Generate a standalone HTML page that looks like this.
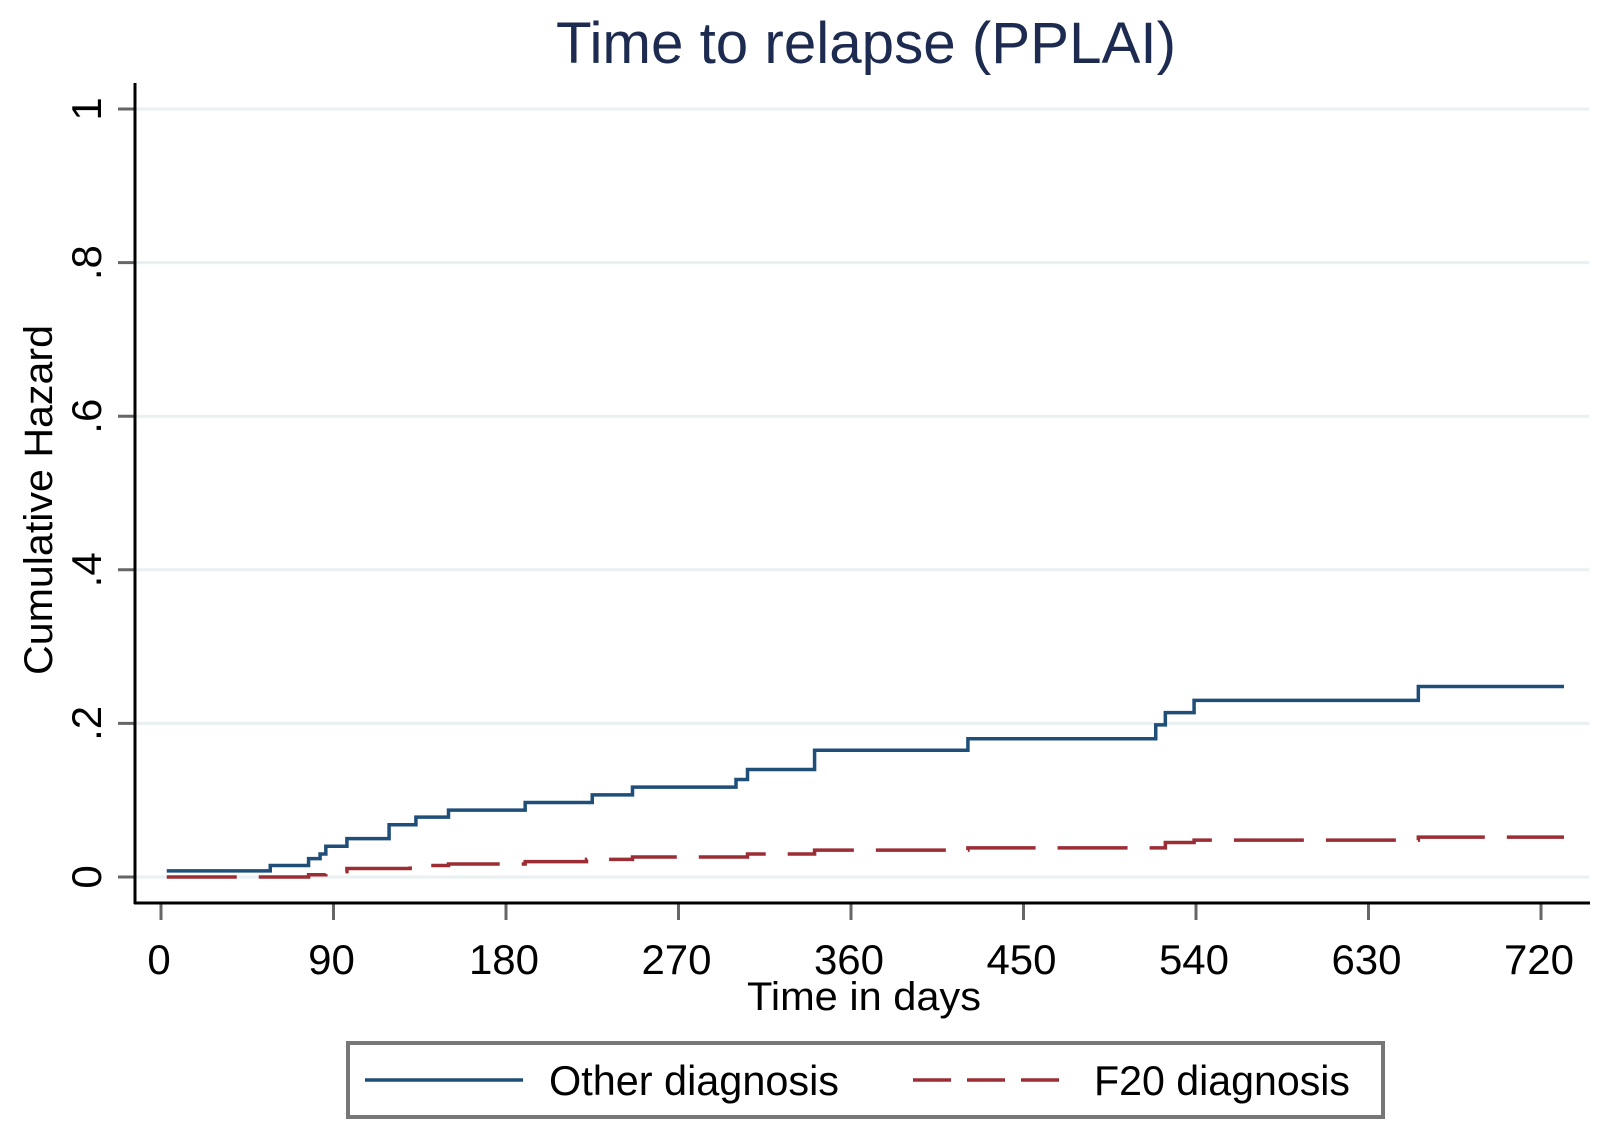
<!DOCTYPE html>
<html><head><meta charset="utf-8">
<style>
html,body{margin:0;padding:0;background:#fff;}
svg{display:block;font-family:"Liberation Sans",Arial,sans-serif;}
</style></head>
<body>
<svg id="chart" width="1611" height="1131" viewBox="0 0 1611 1131" xmlns="http://www.w3.org/2000/svg">
  <rect x="0" y="0" width="1611" height="1131" fill="#fff"/>
  <text x="866" y="63" text-anchor="middle" font-size="58" fill="#1c2b4f" textLength="620" lengthAdjust="spacingAndGlyphs">Time to relapse (PPLAI)</text>
  <g id="grid"></g>
  <g id="yticks"></g>
  <g id="xticks"></g>
  <g id="series"></g>
  <line x1="135" y1="83" x2="135" y2="904" stroke="#000" stroke-width="3"/>
  <line x1="134" y1="903" x2="1590" y2="903" stroke="#000" stroke-width="3"/>
  <text transform="translate(52,500) rotate(-90)" text-anchor="middle" font-size="40" fill="#000" textLength="350" lengthAdjust="spacingAndGlyphs">Cumulative Hazard</text>
  <text x="864" y="1010" text-anchor="middle" font-size="40" fill="#000" textLength="234" lengthAdjust="spacingAndGlyphs">Time in days</text>
  <g>
    <rect x="348" y="1043" width="1035" height="74" fill="#fff" stroke="#777" stroke-width="4"/>
    <line x1="365" y1="1080" x2="523" y2="1080" stroke="#1f4e79" stroke-width="3.5"/>
    <text x="549" y="1095" font-size="42" fill="#000" textLength="290" lengthAdjust="spacingAndGlyphs">Other diagnosis</text>
    <line x1="913" y1="1080" x2="1071" y2="1080" stroke="#9b2d35" stroke-width="3.5" stroke-dasharray="38,16"/>
    <text x="1094" y="1095" font-size="42" fill="#000" textLength="256" lengthAdjust="spacingAndGlyphs">F20 diagnosis</text>
  </g>
</svg>
<script>
const xTicks = [0, 90, 180, 270, 360, 450, 540, 630, 720];
const yTicks = [0, 0.2, 0.4, 0.6, 0.8, 1];
const yTickLabels = ["0", ".2", ".4", ".6", ".8", "1"];
const otherDays = [3, 57, 77, 83, 86, 97, 119, 133, 150, 190, 225, 246, 300, 306, 341, 421, 519, 524, 539, 656, 732];
const otherHaz  = [0.008, 0.015, 0.024, 0.03, 0.04, 0.05, 0.068, 0.078, 0.087, 0.097, 0.107, 0.117, 0.127, 0.14, 0.165, 0.18, 0.198, 0.214, 0.23, 0.248, 0.248];
const f20Days = [3, 77, 86, 97, 130, 150, 190, 222, 246, 306, 341, 421, 524, 539, 656, 732];
const f20Haz  = [0, 0.003, 0.007, 0.011, 0.015, 0.017, 0.02, 0.023, 0.026, 0.03, 0.035, 0.038, 0.045, 0.048, 0.052, 0.052];

const NS = "http://www.w3.org/2000/svg";
function xs(d){ return 161 + d * (1541 - 161) / 720; }
function ys(v){ return 877 - v * (877 - 109); }
function mk(tag, attrs, parent){
  const e = document.createElementNS(NS, tag);
  for (const k in attrs) e.setAttribute(k, attrs[k]);
  parent.appendChild(e);
  return e;
}
const grid = document.getElementById('grid');
const yt = document.getElementById('yticks');
const xt = document.getElementById('xticks');
const series = document.getElementById('series');

yTicks.forEach((v, i) => {
  const g = mk('line', {x1:136, x2:1589, y1:ys(v), y2:ys(v), stroke:'#e8f0f2', 'stroke-width':3}, grid);
  
  
  const t = mk('line', {x1:118, x2:135, y1:ys(v), y2:ys(v), stroke:'#666', 'stroke-width':3}, yt);
  
  
  const lab = mk('text', {transform:'translate(101,' + ys(v) + ') rotate(-90)', 'text-anchor':'middle', 'font-size':42, fill:'#000'}, yt);
  lab.textContent = yTickLabels[i];
  
  
});

xTicks.forEach(d => {
  const t = mk('line', {x1:xs(d), x2:xs(d), y1:903, y2:920, stroke:'#666', 'stroke-width':3}, xt);
  
  
  const lab = mk('text', {x:xs(d) - 2, y:974, 'text-anchor':'middle', 'font-size':42, fill:'#000'}, xt);
  lab.textContent = String(d);
  
  
});

function stepPath(days, vals){
  let p = 'M' + xs(days[0]) + ' ' + ys(vals[0]);
  for (let i = 1; i < days.length; i++){
    p += ' H' + xs(days[i]) + ' V' + ys(vals[i]);
  }
  return p;
}
const pOther = mk('path', {d:stepPath(otherDays, otherHaz), fill:'none', stroke:'#1f4e79', 'stroke-width':3.5}, series);


const pF20 = mk('path', {d:stepPath(f20Days, f20Haz), fill:'none', stroke:'#9b2d35', 'stroke-width':3.5, 'stroke-dasharray':'70,22'}, series);


</script>
</body></html>
